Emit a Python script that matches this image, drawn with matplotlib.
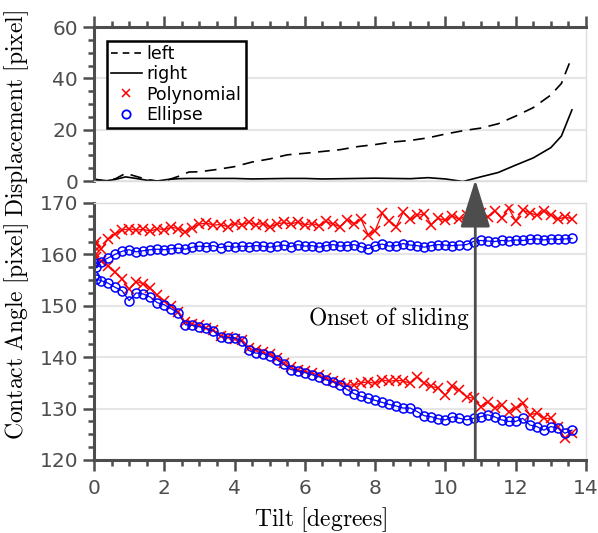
import matplotlib
matplotlib.use("Agg")
import matplotlib.pyplot as plt
from matplotlib.ticker import MultipleLocator
from matplotlib.lines import Line2D

plt.rcParams['font.family'] = ['DejaVu Sans']
plt.rcParams['mathtext.fontset'] = 'cm'

# ---------------- data ----------------
tilt = [0.0, 0.05, 0.2, 0.4, 0.6, 0.8, 1.0, 1.2, 1.4, 1.6, 1.8, 2.0, 2.2, 2.4, 2.6, 2.8,
        3.0, 3.2, 3.4, 3.6, 3.8, 4.0, 4.2, 4.4, 4.6, 4.8, 5.0, 5.2, 5.4, 5.6, 5.8, 6.0,
        6.2, 6.4, 6.6, 6.8, 7.0, 7.2, 7.4, 7.6, 7.8, 8.0, 8.2, 8.4, 8.6, 8.8, 9.0, 9.2,
        9.4, 9.6, 9.8, 10.0, 10.2, 10.4, 10.6, 10.8, 11.0, 11.2, 11.4, 11.6, 11.8, 12.0,
        12.2, 12.4, 12.6, 12.8, 13.0, 13.2, 13.4, 13.6]

ellipse_upper = [158.3, 157.5, 158.6, 159.3, 160.0, 160.6, 160.9, 160.5, 160.7, 160.9, 161.0,
                 160.9, 161.1, 161.2, 161.0, 161.4, 161.6, 161.5, 161.7, 161.3, 161.6, 161.4,
                 161.6, 161.5, 161.7, 161.6, 161.4, 161.6, 161.8, 161.5, 161.9, 161.6, 161.7,
                 161.4, 161.7, 161.9, 161.6, 161.7, 161.9, 161.5, 161.1, 161.7, 162.0, 161.6,
                 161.7, 162.1, 161.8, 161.7, 161.4, 161.7, 161.9, 161.8, 161.7, 161.8, 161.9,
                 162.5, 162.7, 162.6, 162.5, 162.7, 162.6, 162.8, 162.7, 162.9, 163.0, 162.8,
                 163.0, 162.9, 163.0, 163.1]

poly_upper = [161.6, 162.5, 161.0, 163.0, 164.0, 164.7, 165.0, 164.7, 164.9, 164.5, 165.0,
              164.8, 165.3, 165.0, 164.4, 165.2, 165.9, 166.1, 165.7, 165.8, 165.4, 166.0,
              165.8, 166.2, 165.8, 166.0, 165.3, 165.9, 166.2, 165.9, 166.3, 165.7, 166.0,
              165.6, 166.4, 165.9, 165.4, 166.7, 166.0, 166.8, 163.8, 164.6, 168.0, 166.5,
              165.4, 168.2, 166.8, 167.6, 167.9, 165.8, 167.0, 166.6, 167.5, 166.8, 167.6,
              167.0, 168.0, 167.3, 168.5, 167.0, 169.0, 166.5, 168.6, 168.1, 167.6, 168.4,
              167.7, 166.8, 167.3, 166.9]

ellipse_lower = [155.7, 155.2, 154.9, 154.4, 153.6, 152.9, 151.0, 152.5, 152.3, 151.7, 150.6,
                 150.2, 149.4, 148.6, 146.3, 146.2, 145.9, 145.6, 145.1, 144.0, 143.8, 143.8,
                 143.1, 141.3, 140.8, 140.7, 140.2, 139.5, 138.6, 137.6, 137.3, 137.0, 136.6,
                 136.2, 135.6, 135.2, 134.6, 133.7, 132.9, 132.4, 132.0, 131.6, 131.2, 130.8,
                 130.5, 130.1, 130.1, 129.4, 128.6, 128.4, 128.0, 127.8, 128.4, 128.1, 127.8,
                 128.1, 128.4, 128.8, 128.4, 127.8, 127.5, 127.5, 128.1, 126.8, 126.5, 125.8,
                 126.5, 126.2, 125.2, 125.8]

poly_lower = [160.5, 159.5, 158.8, 157.8, 156.5, 155.2, 153.2, 154.7, 154.3, 153.4, 152.0,
              151.0, 150.0, 148.8, 146.8, 146.5, 146.2, 145.6, 145.3, 144.2, 144.0, 143.6,
              143.3, 141.8, 141.3, 141.0, 140.6, 139.9, 138.8, 138.0, 137.5, 137.3, 136.9,
              136.5, 136.0, 135.4, 135.0, 134.6, 134.6, 135.0, 135.2, 134.9, 135.6, 135.3,
              135.5, 135.4, 134.9, 136.2, 134.9, 134.3, 134.0, 132.6, 134.3, 133.6, 132.3,
              132.0, 130.4, 131.3, 130.1, 130.7, 129.4, 130.1, 131.0, 128.8, 129.1, 128.1,
              128.1, 126.5, 124.2, 125.2]

tilt_disp = [0.0, 0.3, 0.6, 0.9, 1.2, 1.5, 1.8, 2.1, 2.4, 2.7, 3.0, 3.5, 4.0, 4.5, 5.0, 5.5,
             6.0, 6.5, 7.0, 7.5, 8.0, 8.5, 9.0, 9.5, 10.0, 10.5, 11.0, 11.5, 12.0, 12.5,
             13.0, 13.3, 13.6]
disp_left = [0.5, 0.2, 0.8, 3.0, 1.8, 0.6, 0.0, 0.4, 1.8, 3.5, 3.6, 4.5, 5.6, 7.4, 8.6, 10.2,
             10.8, 11.5, 12.2, 13.4, 14.2, 15.2, 15.8, 16.8, 18.3, 19.6, 20.6, 22.3, 25.3,
             28.6, 33.5, 38.0, 48.4]
disp_right = [0.8, 0.0, 0.6, 1.6, 1.0, 0.3, 0.0, 0.6, 0.9, 1.0, 1.0, 1.0, 1.0, 0.8, 0.9, 1.0,
              1.0, 0.8, 0.9, 1.0, 1.1, 1.0, 0.9, 1.3, 0.8, -0.2, 1.6, 3.3, 6.2, 9.0, 13.0,
              17.5, 27.7]

onset_tilt = 10.85
x_ticks = [0, 2, 4, 6, 8, 10, 12, 14]

# ---------------- style ----------------
DARK = '#4d4d4d'
LIGHT = '#dedede'
GRID = '#e6e6e6'

fig = plt.figure(figsize=(5.98, 5.33), dpi=100)
ax1 = fig.add_axes([0.1572, 0.6604, 0.8227, 0.2889])
ax2 = fig.add_axes([0.1572, 0.1370, 0.8227, 0.4822])


def style(ax, dark):
    for s in ['left', 'right', 'top', 'bottom']:
        sp = ax.spines[s]
        if s in dark:
            sp.set_color(DARK)
            sp.set_linewidth(2.2)
        else:
            sp.set_color(LIGHT)
            sp.set_linewidth(1.0)
    ax.tick_params(which='both', direction='out', color=DARK, width=1.8,
                   labelcolor=DARK, labelsize=14.5)
    ax.tick_params(which='major', length=8)
    ax.tick_params(which='minor', length=4.5)
    ax.yaxis.grid(True, color=GRID, lw=1.5)
    ax.set_axisbelow(True)


# ---- top panel ----
ax1.plot(tilt_disp, disp_left, color='black', lw=1.2, ls=(0, (7, 4.5)))
ax1.plot(tilt_disp, disp_right, color='black', lw=1.2)
ax1.set_xlim(0, 14)
ax1.set_ylim(0, 60)
ax1.set_xticks(x_ticks)
ax1.xaxis.set_minor_locator(MultipleLocator(0.5))
ax1.yaxis.set_major_locator(MultipleLocator(20))
ax1.yaxis.set_minor_locator(MultipleLocator(5))
ax1.xaxis.set_ticks_position('top')
ax1.tick_params(axis='x', which='both', labeltop=False, labelbottom=False)
ax1.yaxis.set_ticks_position('left')
style(ax1, ['left', 'top'])
ax1.set_ylabel(r'$\mathrm{Displacement\ [pixel]}$', fontsize=17)
ax1.yaxis.set_label_coords(-0.128, 0.44)

handles = [
    Line2D([], [], color='black', lw=1.2, ls=(0, (4, 3))),
    Line2D([], [], color='black', lw=1.2),
    Line2D([], [], color='red', marker='x', ls='none', ms=6, mew=1.1),
    Line2D([], [], color='blue', marker='o', ls='none', ms=6, mfc='none', mew=1.3),
]
leg = ax1.legend(handles, ['left', 'right', 'Polynomial', 'Ellipse'],
                 loc='upper left', bbox_to_anchor=(0.026, 0.909), borderaxespad=0,
                 fontsize=12.5, fancybox=False, framealpha=1, edgecolor='black',
                 borderpad=0.25, labelspacing=0.12, handlelength=1.75,
                 handletextpad=0.3)
leg.get_frame().set_linewidth(1.8)

# ---- bottom panel ----
ax2.plot(tilt, poly_lower, color='red', marker='x', ms=6.5, mew=1.1, lw=0.9)
ax2.plot(tilt, poly_upper, color='red', marker='x', ms=6.5, mew=1.1, lw=0.9)
ax2.plot(tilt, ellipse_lower, color='blue', marker='o', ms=6.5, mfc='none', mew=1.1, lw=0.9)
ax2.plot(tilt, ellipse_upper, color='blue', marker='o', ms=6.5, mfc='none', mew=1.1, lw=0.9)
ax2.set_xlim(0, 14)
ax2.set_ylim(120, 170)
ax2.set_xticks(x_ticks)
ax2.xaxis.set_minor_locator(MultipleLocator(0.5))
ax2.yaxis.set_major_locator(MultipleLocator(10))
ax2.yaxis.set_minor_locator(MultipleLocator(2.5))
ax2.xaxis.set_ticks_position('bottom')
ax2.yaxis.set_ticks_position('left')
style(ax2, ['left', 'bottom'])
ax2.tick_params(axis='x', which='major', pad=6)
ax2.set_ylabel(r'$\mathrm{Contact\ Angle\ [pixel]}$', fontsize=17)
ax2.yaxis.set_label_coords(-0.128, 0.5)
ax2.set_xlabel(r'$\mathrm{Tilt\ [degrees]}$', fontsize=17)
ax2.xaxis.set_label_coords(0.46, -0.175)

ax2.annotate('', xy=(onset_tilt, 174.5), xytext=(onset_tilt, 120),
             arrowprops=dict(arrowstyle='-|>,head_length=1.5,head_width=0.47',
                             mutation_scale=20, color=DARK, lw=2, shrinkA=0, shrinkB=0),
             annotation_clip=False)
ax2.text(10.68, 147.6, r'$\mathrm{Onset\ of\ sliding}$', fontsize=17,
         ha='right', va='center')

fig.savefig('out.png', dpi=100)
